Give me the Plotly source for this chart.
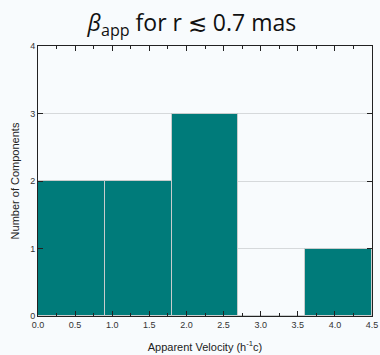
import plotly.graph_objects as go

bin_left = [0.0, 0.9, 1.8, 2.7, 3.6]
bin_width = 0.9
counts = [2, 2, 3, 0, 1]
x_ticks = [0.0, 0.5, 1.0, 1.5, 2.0, 2.5, 3.0, 3.5, 4.0, 4.5]
y_ticks = [0, 1, 2, 3, 4]

centers = [b + bin_width / 2 for b in bin_left]

fig = go.Figure()
fig.add_trace(go.Bar(
    x=centers, y=counts, width=[bin_width] * len(counts),
    marker=dict(color="#007B7A", line=dict(color="#C8CCCC", width=1)),
    showlegend=False,
))

bg = "#F8FBFD"
fig.update_layout(
    width=380, height=355, autosize=False,
    margin=dict(l=38, r=8, t=46, b=39),
    paper_bgcolor=bg, plot_bgcolor=bg,
    title=dict(
        text="<i>β</i><sub>app</sub> for r ≲ 0.7 mas",
        x=0.505, xanchor="center", y=0.935, yanchor="middle",
        font=dict(family="Open Sans", size=23, color="#111"),
    ),
    bargap=0,
    font=dict(family="Liberation Sans, Arial", size=9, color="#333"),
)
fig.update_xaxes(
    range=[0, 4.5], tickvals=x_ticks, ticktext=[f"{v:.1f}" for v in x_ticks],
    ticks="inside", ticklen=5, tickcolor="#222", tickwidth=1,
    minor=dict(ticks="inside", ticklen=3, tickcolor="#222", dtick=0.25, showgrid=False),
    showline=True, linecolor="#222", linewidth=1, mirror="ticks",
    showgrid=False, zeroline=False, automargin=False,
    ticklabeloverflow="allow",
    title=dict(text="Apparent Velocity (h<sup>-1</sup>c)", font=dict(size=11, color="#222"), standoff=14),
    tickfont=dict(size=9, color="#333"),
)
fig.update_yaxes(
    range=[0, 4], tickvals=y_ticks,
    ticks="inside", ticklen=5, tickcolor="#222", tickwidth=1,
    showline=True, linecolor="#222", linewidth=1, mirror="ticks",
    showgrid=True, gridcolor="#D6D9DB", gridwidth=1, zeroline=False, automargin=False,
    title=dict(text="Number of Components", font=dict(size=11, color="#222"), standoff=8),
    tickfont=dict(size=9, color="#333"),
)

fig.write_html("out.html", config={"responsive": False})
